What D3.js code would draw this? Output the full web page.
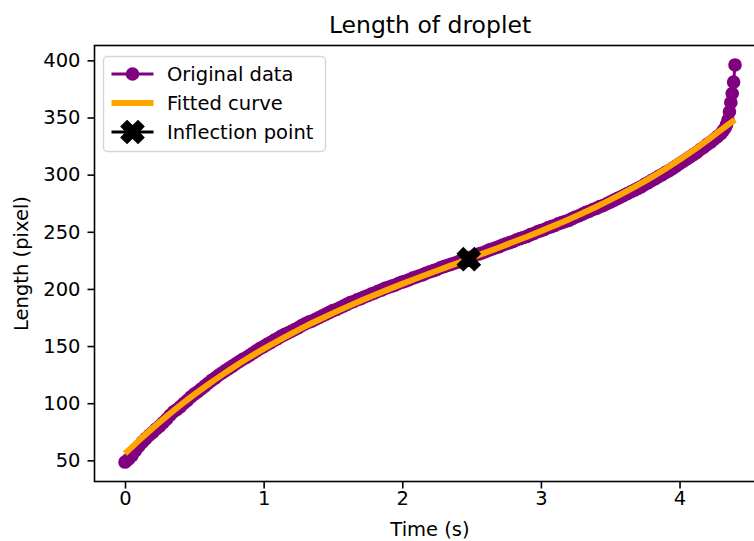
<!DOCTYPE html>
<html>
<head>
<meta charset="utf-8">
<script src="https://cdn.jsdelivr.net/npm/d3@7"></script>
<style>
  html, body { margin: 0; padding: 0; background: #fff; }
  svg { display: block; font-family: "DejaVu Sans", sans-serif; }
</style>
</head>
<body>
<svg id="chart" width="754" height="541"></svg>
<script>
// Measured droplet length over time
const timeData = [
  0.000, 0.025, 0.050, 0.075, 0.100, 0.125, 0.150, 0.175,
  0.200, 0.225, 0.250, 0.275, 0.300, 0.325, 0.350, 0.375,
  0.400, 0.425, 0.450, 0.475, 0.500, 0.525, 0.550, 0.575,
  0.600, 0.625, 0.650, 0.675, 0.700, 0.725, 0.750, 0.775,
  0.800, 0.825, 0.850, 0.875, 0.900, 0.925, 0.950, 0.975,
  1.000, 1.025, 1.050, 1.075, 1.100, 1.125, 1.150, 1.175,
  1.200, 1.225, 1.250, 1.275, 1.300, 1.325, 1.350, 1.375,
  1.400, 1.425, 1.450, 1.475, 1.500, 1.525, 1.550, 1.575,
  1.600, 1.625, 1.650, 1.675, 1.700, 1.725, 1.750, 1.775,
  1.800, 1.825, 1.850, 1.875, 1.900, 1.925, 1.950, 1.975,
  2.000, 2.025, 2.050, 2.075, 2.100, 2.125, 2.150, 2.175,
  2.200, 2.225, 2.250, 2.275, 2.300, 2.325, 2.350, 2.375,
  2.400, 2.425, 2.450, 2.475, 2.500, 2.525, 2.550, 2.575,
  2.600, 2.625, 2.650, 2.675, 2.700, 2.725, 2.750, 2.775,
  2.800, 2.825, 2.850, 2.875, 2.900, 2.925, 2.950, 2.975,
  3.000, 3.025, 3.050, 3.075, 3.100, 3.125, 3.150, 3.175,
  3.200, 3.225, 3.250, 3.275, 3.300, 3.325, 3.350, 3.375,
  3.400, 3.425, 3.450, 3.475, 3.500, 3.525, 3.550, 3.575,
  3.600, 3.625, 3.650, 3.675, 3.700, 3.725, 3.750, 3.775,
  3.800, 3.825, 3.850, 3.875, 3.900, 3.925, 3.950, 3.975,
  4.000, 4.025, 4.050, 4.075, 4.100, 4.125, 4.150, 4.175,
  4.200, 4.225, 4.250, 4.275, 4.300, 4.315, 4.330, 4.340,
  4.350, 4.360, 4.370, 4.380, 4.390, 4.400
];
const lengthData = [
  48.5, 51.0, 54.0, 58.5, 62.5, 66.0, 69.0, 72.0,
  74.5, 77.5, 80.0, 83.0, 86.0, 89.5, 92.5, 94.5,
  97.0, 100.0, 102.5, 105.5, 108.0, 110.0, 112.5, 115.0,
  117.5, 120.0, 122.0, 124.5, 126.5, 128.5, 130.5, 132.5,
  134.5, 136.5, 138.5, 140.0, 142.0, 144.0, 146.0, 148.0,
  149.5, 151.5, 153.0, 155.0, 156.5, 158.5, 160.0, 161.5,
  163.0, 164.5, 166.0, 168.0, 169.5, 171.0, 172.0, 173.5,
  175.0, 176.5, 178.0, 179.5, 181.0, 182.0, 183.5, 185.0,
  186.5, 188.0, 189.0, 190.5, 191.5, 193.0, 194.0, 195.5,
  196.5, 198.0, 199.0, 200.5, 201.5, 202.5, 203.5, 205.0,
  206.0, 207.0, 208.0, 209.5, 210.5, 211.5, 212.5, 214.0,
  215.0, 216.0, 217.0, 218.5, 219.5, 220.5, 221.5, 222.5,
  223.5, 225.0, 226.0, 227.0, 228.0, 229.5, 230.5, 231.5,
  232.5, 234.0, 235.0, 236.0, 237.0, 238.5, 239.5, 240.5,
  241.5, 243.0, 244.0, 245.0, 246.0, 247.5, 248.5, 250.0,
  251.0, 252.0, 253.5, 254.5, 255.5, 257.0, 258.0, 259.0,
  260.0, 261.5, 263.0, 264.0, 265.5, 267.0, 268.0, 269.5,
  270.5, 272.0, 273.0, 274.5, 276.0, 277.5, 279.0, 280.5,
  282.0, 283.5, 285.0, 286.5, 288.0, 289.5, 291.5, 293.0,
  295.0, 296.5, 298.5, 300.0, 302.0, 303.5, 305.5, 307.5,
  309.5, 311.5, 313.5, 315.5, 317.5, 319.5, 322.0, 324.0,
  326.5, 328.5, 331.0, 333.5, 336.0, 338.5, 341.0, 344.0,
  348.0, 355.0, 363.0, 371.0, 381.0, 396.0
];

// Fitted curve samples
const fitTime = [
  0.0, 0.1, 0.2, 0.3, 0.4, 0.5, 0.6, 0.7, 0.8, 0.9,
  1.0, 1.1, 1.2, 1.3, 1.4, 1.5, 1.6, 1.7, 1.8, 1.9,
  2.0, 2.1, 2.2, 2.3, 2.4, 2.5, 2.6, 2.7, 2.8, 2.9,
  3.0, 3.1, 3.2, 3.3, 3.4, 3.5, 3.6, 3.7, 3.8, 3.9,
  4.0, 4.1, 4.2, 4.3, 4.4
];
const fitLength = [
  55.9, 67.3, 78.2, 88.5, 98.3, 107.6, 116.4, 124.8, 132.8, 140.4,
  147.6, 154.4, 160.9, 167.2, 173.1, 178.8, 184.3, 189.6, 194.7, 199.6,
  204.4, 209.1, 213.7, 218.2, 222.7, 227.3, 231.8, 236.3, 241.0, 245.7,
  250.6, 255.6, 260.8, 266.3, 271.9, 277.9, 284.2, 290.8, 297.8, 305.2,
  313.0, 321.2, 330.0, 339.2, 348.0
];

// Inflection point of the fitted curve
const inflection = { time: 2.48, length: 226 };

const xTicks = [0, 1, 2, 3, 4];
const yTicks = [50, 100, 150, 200, 250, 300, 350, 400];

const legendItems = ["Original data", "Fitted curve", "Inflection point"];

const purple = "#800080";
const orange = "#ffa500";
const baseFont = 19.5;
const titleFont = 23.5;

const svg = d3.select("#chart");
const plot = { left: 94.5, right: 765.5, top: 45.5, bottom: 481.5 };

const x = d3.scaleLinear().domain([-0.22, 4.62]).range([plot.left, plot.right]);
const y = d3.scaleLinear().domain([31.5, 413]).range([plot.bottom, plot.top]);

const g = svg.append("g");

// data: connected line with circular markers
const data = timeData.map((t, i) => [t, lengthData[i]]);
g.append("path")
  .datum(data)
  .attr("fill", "none")
  .attr("stroke", purple)
  .attr("stroke-width", 3)
  .attr("d", d3.line().x(d => x(d[0])).y(d => y(d[1])));
g.append("g").selectAll("circle")
  .data(data)
  .join("circle")
  .attr("cx", d => x(d[0]))
  .attr("cy", d => y(d[1]))
  .attr("r", 5.8)
  .attr("fill", purple)
  .attr("stroke", purple)
  .attr("stroke-width", 2);

// fitted curve
const fit = fitTime.map((t, i) => [t, fitLength[i]]);
g.append("path")
  .datum(fit)
  .attr("fill", "none")
  .attr("stroke", orange)
  .attr("stroke-width", 6)
  .attr("d", d3.line().x(d => x(d[0])).y(d => y(d[1])).curve(d3.curveMonotoneX));

// inflection marker: filled X
const xSymbol = d3.symbol().type(d3.symbolCross).size(300)();
g.append("path")
  .attr("d", xSymbol)
  .attr("transform", `translate(${x(inflection.time)},${y(inflection.length)}) rotate(45)`)
  .attr("fill", "#000")
  .attr("stroke", "#000")
  .attr("stroke-width", 2)
  .attr("stroke-linejoin", "miter");

// axes
const xAxis = d3.axisBottom(x).tickValues(xTicks).tickSize(7).tickPadding(6).tickFormat(d3.format("d"));
const yAxis = d3.axisLeft(y).tickValues(yTicks).tickSize(7).tickPadding(7).tickFormat(d3.format("d"));

const gx = svg.append("g").attr("transform", `translate(0,${plot.bottom})`).call(xAxis);
const gy = svg.append("g").attr("transform", `translate(${plot.left},0)`).call(yAxis);
[gx, gy].forEach(a => {
  a.select(".domain").remove();
  a.selectAll(".tick line").attr("stroke", "#000").attr("stroke-width", 1.6);
  a.selectAll(".tick text").attr("fill", "#000").attr("font-size", baseFont + "px")
    .attr("font-family", "DejaVu Sans");
});
gx.selectAll(".tick text").attr("dy", null).attr("y", 0)
  .attr("transform", "translate(0,23.5)");

// frame
svg.append("rect")
  .attr("x", plot.left).attr("y", plot.top)
  .attr("width", plot.right - plot.left).attr("height", plot.bottom - plot.top)
  .attr("fill", "none").attr("stroke", "#000").attr("stroke-width", 1.6);

// titles
svg.append("text")
  .attr("x", (plot.left + plot.right) / 2).attr("y", 32.5)
  .attr("text-anchor", "middle").attr("font-size", titleFont + "px").attr("fill", "#000")
  .text("Length of droplet");
svg.append("text")
  .attr("x", (plot.left + plot.right) / 2).attr("y", 536)
  .attr("text-anchor", "middle").attr("font-size", baseFont + "px").attr("fill", "#000")
  .text("Time (s)");
svg.append("text")
  .attr("transform", `translate(28,${(plot.top + plot.bottom) / 2}) rotate(-90)`)
  .attr("text-anchor", "middle").attr("font-size", baseFont + "px").attr("fill", "#000")
  .text("Length (pixel)");

// legend
const lg = svg.append("g").attr("transform", "translate(103.5,56.5)");
lg.append("rect")
  .attr("width", 222).attr("height", 95).attr("rx", 4)
  .attr("fill", "#fff").attr("fill-opacity", 0.8)
  .attr("stroke", "#d6d6d6").attr("stroke-width", 1.4);
const rowY = [17.5, 46.5, 75.5];
const hx0 = 8, hx1 = 50, hxc = 29;
// row 1: line with circle
lg.append("line").attr("x1", hx0).attr("x2", hx1).attr("y1", rowY[0]).attr("y2", rowY[0])
  .attr("stroke", purple).attr("stroke-width", 3);
lg.append("circle").attr("cx", hxc).attr("cy", rowY[0]).attr("r", 5.8)
  .attr("fill", purple).attr("stroke", purple).attr("stroke-width", 2);
// row 2: thick orange line
lg.append("line").attr("x1", hx0).attr("x2", hx1).attr("y1", rowY[1]).attr("y2", rowY[1])
  .attr("stroke", orange).attr("stroke-width", 6);
// row 3: black line with filled X
lg.append("line").attr("x1", hx0).attr("x2", hx1).attr("y1", rowY[2]).attr("y2", rowY[2])
  .attr("stroke", "#000").attr("stroke-width", 3);
lg.append("path").attr("d", xSymbol)
  .attr("transform", `translate(${hxc},${rowY[2]}) rotate(45)`)
  .attr("fill", "#000").attr("stroke", "#000").attr("stroke-width", 2);
lg.selectAll("text.lbl")
  .data(legendItems)
  .join("text")
  .attr("class", "lbl")
  .attr("x", 63.5)
  .attr("y", (d, i) => rowY[i] + 7)
  .attr("font-size", baseFont + "px").attr("fill", "#000")
  .text(d => d);
</script>
</body>
</html>
